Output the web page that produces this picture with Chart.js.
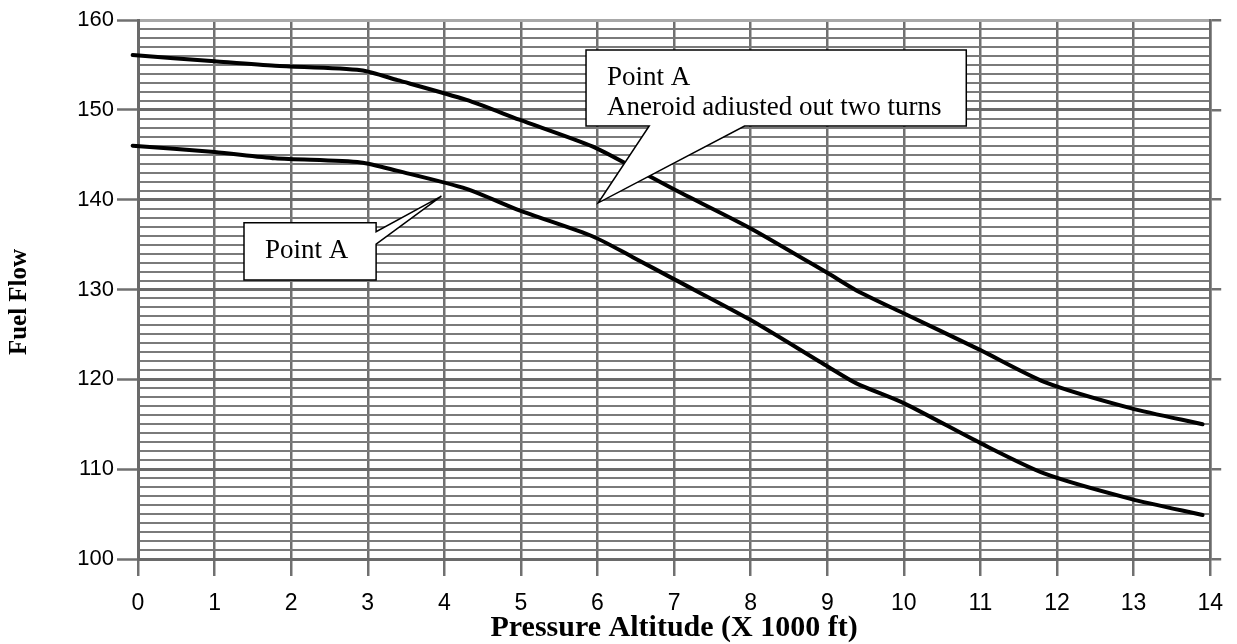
<!DOCTYPE html>
<html>
<head>
<meta charset="utf-8">
<script src="https://cdn.jsdelivr.net/npm/chart.js@4.4.1/dist/chart.umd.min.js"></script>
<style>
  html, body { margin: 0; padding: 0; background: #fff; }
  #wrap { width: 1237px; height: 644px; }
</style>
</head>
<body>
<div id="wrap"><canvas id="fuel-chart"></canvas></div>
<script>
// pressure altitude (x 1000 ft) / fuel flow
var altUpper  = [-0.07, 1.0, 1.79, 2.91, 3.39, 4.29, 4.98, 5.94, 6.46, 7.01, 8.0, 9.01, 9.38, 10.01, 11.0, 11.84, 12.96, 13.9];
var flowUpper = [156.1, 155.4, 154.9, 154.4, 153.3, 151.1, 148.9, 145.9, 143.6, 141.1, 136.8, 131.8, 129.9, 127.3, 123.25, 119.7, 116.8, 115.0];
var altLower  = [-0.07, 1.0, 1.79, 2.91, 3.39, 4.29, 4.98, 5.94, 6.46, 7.01, 8.0, 9.01, 9.38, 10.01, 11.0, 11.84, 12.96, 13.9];
var flowLower = [146.0, 145.3, 144.6, 144.15, 143.2, 141.2, 138.8, 135.9, 133.6, 131.1, 126.6, 121.4, 119.55, 117.3, 112.9, 109.5, 106.7, 104.9];

var altTicks  = [0, 1, 2, 3, 4, 5, 6, 7, 8, 9, 10, 11, 12, 13, 14];
var flowMajor = [100, 110, 120, 130, 140, 150, 160];

// minor horizontal grid every 1 unit
var flowMinor = [];
for (var v = flowMajor[0]; v <= flowMajor[flowMajor.length - 1]; v++) flowMinor.push(v);

function toPoints(xs, ys) {
    return xs.map(function (x, i) { return { x: x, y: ys[i] }; });
}

var gridGray = '#707070';
var serif = '"Liberation Serif", "Times New Roman", serif';
var sans = '"Liberation Sans", Arial, sans-serif';

// callout boxes, in data units of the chart
var callouts = [
    { box: [5.85, 10.815, 156.66, 148.2], side: 'bottom', base: [6.675, 7.92], tip: [6.01, 139.65],
      lines: ['Point A', 'Aneroid adiusted out two turns'] },
    { box: [1.384, 3.109, 137.43, 131.05], side: 'right', base: [136.43, 135.06], tip: [3.962, 140.4],
      lines: ['Point A'] }
];

var calloutPlugin = {
    id: 'callouts',
    afterDatasetsDraw: function (chart) {
        var xs = chart.scales.x, ys = chart.scales.y, c = chart.ctx;
        callouts.forEach(function (co) {
            var l = xs.getPixelForValue(co.box[0]), r = xs.getPixelForValue(co.box[1]);
            var t = ys.getPixelForValue(co.box[2]), b = ys.getPixelForValue(co.box[3]);
            var tx = xs.getPixelForValue(co.tip[0]), ty = ys.getPixelForValue(co.tip[1]);
            c.save();
            c.beginPath();
            c.moveTo(l, t);
            c.lineTo(r, t);
            if (co.side === 'right') {
                c.lineTo(r, ys.getPixelForValue(co.base[0]));
                c.lineTo(tx, ty);
                c.lineTo(r, ys.getPixelForValue(co.base[1]));
                c.lineTo(r, b);
                c.lineTo(l, b);
            } else {
                c.lineTo(r, b);
                c.lineTo(xs.getPixelForValue(co.base[1]), b);
                c.lineTo(tx, ty);
                c.lineTo(xs.getPixelForValue(co.base[0]), b);
                c.lineTo(l, b);
            }
            c.closePath();
            c.fillStyle = '#fff';
            c.fill();
            c.lineWidth = 1.5;
            c.strokeStyle = '#000';
            c.stroke();
            c.fillStyle = '#000';
            c.font = '27px ' + serif;
            co.lines.forEach(function (txt, i) {
                c.fillText(txt, l + 21, t + 35 + i * 30);
            });
            c.restore();
        });
    }
};

var ctx = document.getElementById('fuel-chart');

var chart = new Chart(ctx, {
    type: 'line',
    data: {
        datasets: [{
            data: toPoints(altUpper, flowUpper),
            borderColor: '#000',
            borderWidth: 4,
            borderCapStyle: 'round',
            pointRadius: 0,
            tension: 0.25,
            clip: false
        }, {
            data: toPoints(altLower, flowLower),
            borderColor: '#000',
            borderWidth: 4,
            borderCapStyle: 'round',
            pointRadius: 0,
            tension: 0.25,
            clip: false
        }]
    },
    options: {
        responsive: true,
        maintainAspectRatio: false,
        animation: false,
        layout: { padding: { top: 20, right: 0, bottom: 0, left: 0 } },
        plugins: {
            legend: { display: false },
            tooltip: { enabled: false }
        },
        scales: {
            x: {
                type: 'linear',
                min: 0,
                max: 14,
                afterBuildTicks: function (s) { s.ticks = altTicks.map(function (v) { return { value: v }; }); },
                afterFit: function (s) { s.height = 85; },
                grid: { color: gridGray, lineWidth: 2.5, tickLength: 17, tickColor: gridGray, tickWidth: 2.5 },
                border: { color: '#6a6a6a', width: 3 },
                ticks: { color: '#000', font: { family: sans, size: 23 }, padding: 14, autoSkip: false, maxRotation: 0 },
                title: {
                    display: true,
                    text: 'Pressure Altitude (X 1000 ft)',
                    color: '#000',
                    font: { family: serif, size: 30, weight: 'bold', lineHeight: 1 },
                    padding: { top: 0, bottom: 1 }
                }
            },
            y: {
                type: 'linear',
                position: 'left',
                min: 100,
                max: 160,
                afterBuildTicks: function (s) { s.ticks = flowMinor.map(function (v) { return { value: v }; }); },
                afterFit: function (s) { s.width = 138; },
                grid: {
                    color: function (c) {
                        if (c.tick.value === 160) return '#a8a8a8';
                        return c.tick.value % 10 === 0 ? '#6a6a6a' : '#7a7a7a';
                    },
                    lineWidth: function (c) { return c.tick.value % 10 === 0 ? 3 : 2; },
                    tickLength: 21,
                    tickColor: function (c) { return c.tick.value % 10 === 0 ? gridGray : 'rgba(0,0,0,0)'; },
                    tickWidth: 2.5
                },
                border: { color: '#6a6a6a', width: 3 },
                ticks: {
                    color: '#000',
                    font: { family: sans, size: 22 },
                    padding: 3,
                    autoSkip: false,
                    callback: function (value) { return value % 10 === 0 ? value : ''; }
                },
                title: {
                    display: true,
                    // trailing spaces nudge the rotated title a little below centre, as in the original
                    text: 'Fuel Flow    ',
                    color: '#000',
                    font: { family: serif, size: 25, weight: 'bold', lineHeight: 1 },
                    padding: { top: 7, bottom: 0 }
                }
            },
            y2: {
                type: 'linear',
                position: 'right',
                min: 100,
                max: 160,
                afterBuildTicks: function (s) { s.ticks = flowMajor.map(function (v) { return { value: v }; }); },
                afterFit: function (s) { s.width = 18; },
                grid: { drawOnChartArea: false, tickLength: 11, color: gridGray, lineWidth: 2.5 },
                border: { color: '#6a6a6a', width: 2.5 },
                ticks: { display: false }
            }
        }
    },
    plugins: [calloutPlugin]
});
</script>
</body>
</html>
